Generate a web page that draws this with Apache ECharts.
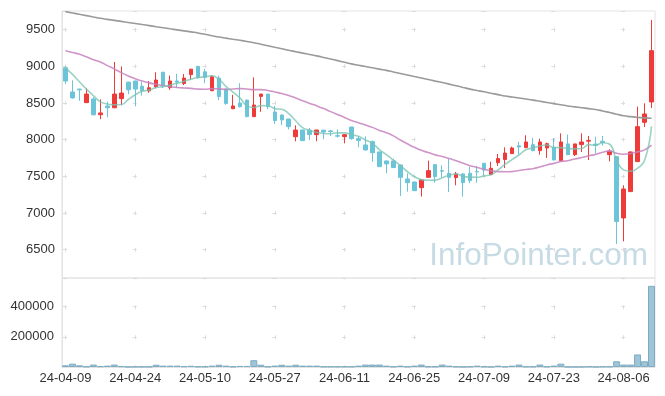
<!DOCTYPE html>
<html>
<head>
<meta charset="utf-8">
<script src="https://cdn.jsdelivr.net/npm/echarts@6/dist/echarts.min.js"></script>
<style>
html,body{margin:0;padding:0;background:#fff;}
#chart{width:665px;height:396px;}
</style>
</head>
<body>
<div id="chart"></div>
<script>
const dates = ['24-04-09','24-04-11','24-04-12','24-04-15','24-04-16','24-04-17','24-04-18','24-04-19','24-04-22','24-04-23',
'24-04-24','24-04-25','24-04-26','24-04-29','24-04-30','24-05-02','24-05-03','24-05-07','24-05-08','24-05-09',
'24-05-10','24-05-13','24-05-14','24-05-16','24-05-17','24-05-20','24-05-21','24-05-22','24-05-23','24-05-24',
'24-05-27','24-05-28','24-05-29','24-05-30','24-05-31','24-06-03','24-06-04','24-06-05','24-06-07','24-06-10',
'24-06-11','24-06-12','24-06-13','24-06-14','24-06-17','24-06-18','24-06-19','24-06-20','24-06-21','24-06-24',
'24-06-25','24-06-26','24-06-27','24-06-28','24-07-01','24-07-02','24-07-03','24-07-04','24-07-05','24-07-08',
'24-07-09','24-07-10','24-07-11','24-07-12','24-07-15','24-07-16','24-07-17','24-07-18','24-07-19','24-07-22',
'24-07-23','24-07-24','24-07-25','24-07-26','24-07-29','24-07-30','24-07-31','24-08-01','24-08-02','24-08-05',
'24-08-06','24-08-07','24-08-08','24-08-09','24-08-12'];

const opens = [8980,8650,8690,8505,8555,8340,8460,8436,8560,8785,
8800,8730,8665,8723,8920,8710,8800,8765,8887,9000,
8925,8668,8840,8690,8423,8500,8540,8314,8590,8622,
8378,8337,8282,8041,8132,8130,8069,8130,8120,8055,
8041,8173,8015,7928,7973,7833,7710,7710,7655,7464,
7423,7346,7487,7660,7578,7542,7483,7533,7542,7568,
7678,7524,7687,7730,7810,7918,7892,7932,7851,7887,
7896,7714,7942,7796,7933,7980,7940,7978,7796,7769,
6933,7292,7701,8237,8514];

const closes = [8800,8570,8680,8622,8340,8365,8435,8622,8636,8680,
8690,8670,8708,8814,8740,8800,8785,8840,8962,8850,
8850,8858,8588,8495,8460,8450,8315,8473,8622,8450,
8260,8270,8178,8132,7987,8070,8132,8105,8112,8048,
8068,8014,7990,7860,7823,7633,7670,7620,7487,7414,
7305,7451,7578,7496,7570,7487,7533,7414,7442,7560,
7587,7610,7742,7818,7887,7900,7969,7851,7969,7946,
7723,7969,7796,7942,7969,7990,7925,7962,7842,6883,
7328,7833,8178,8351,9214];

const lows = [8760,8560,8530,8500,8330,8280,8305,8430,8470,8620,
8455,8600,8640,8700,8705,8680,8710,8745,8820,8830,
8770,8660,8540,8475,8415,8440,8305,8310,8380,8415,
8215,8200,8140,7978,7985,7995,7980,8005,8050,8030,
7950,8000,7895,7855,7700,7630,7542,7615,7233,7292,
7300,7225,7480,7414,7487,7287,7378,7224,7405,7414,
7514,7520,7642,7615,7805,7796,7885,7842,7796,7751,
7720,7710,7790,7778,7832,7723,7814,7920,7705,6578,
6614,7290,7700,8173,8432];

const highs = [9000,8810,8695,8700,8580,8550,8520,9060,9000,8790,
8805,8790,8800,8920,8925,8875,8900,8895,8965,9005,
8965,8880,8875,8695,8612,8770,8545,8850,8625,8625,
8460,8340,8285,8196,8135,8160,8135,8135,8135,8140,
8075,8175,8050,8045,7990,7835,7715,7740,7660,7542,
7430,7455,7715,7665,7650,7740,7560,7545,7632,7642,
7680,7700,7805,7896,7905,7970,8060,8025,8014,7960,
8023,8087,8069,7945,8087,8051,8042,8050,7870,7775,
7378,7840,8451,8496,9632];

const ma5 = [8980,8890,8790,8690,8602,8515,8488,8477,8480,8548,
8613,8660,8677,8712,8724,8746,8769,8796,8825,8847,
8857,8872,8822,8728,8650,8570,8462,8439,8464,8462,
8424,8415,8356,8258,8165,8127,8100,8085,8081,8093,
8093,8069,8046,7996,7951,7864,7795,7721,7647,7565,
7499,7455,7447,7449,7480,7516,7533,7500,7489,7487,
7507,7523,7588,7663,7729,7791,7863,7885,7915,7927,
7892,7892,7881,7875,7880,7933,7924,7958,7938,7720,
7588,7570,7613,7715,8181];

const ma20 = [9214,9190,9165,9130,9091,9060,9010,8965,8915,8870,
8830,8800,8775,8755,8738,8722,8712,8705,8700,8690,
8688,8697,8693,8686,8692,8697,8691,8683,8683,8671,
8650,8630,8603,8569,8531,8495,8462,8425,8383,8343,
8304,8261,8232,8200,8168,8127,8095,8052,7995,7944,
7896,7855,7825,7793,7772,7743,7713,7679,7645,7621,
7597,7577,7564,7562,7565,7579,7594,7605,7629,7656,
7677,7703,7713,7736,7756,7781,7800,7828,7848,7814,
7801,7812,7834,7861,7927];

const maLong = [9746,9728,9710,9692,9673,9655,9641,9627,9613,9599,
9585,9570,9556,9541,9527,9512,9498,9484,9470,9456,
9437,9418,9400,9385,9370,9355,9339,9323,9302,9281,
9260,9240,9219,9200,9181,9162,9143,9122,9100,9078,
9056,9034,9016,8998,8980,8962,8945,8924,8903,8882,
8861,8841,8820,8799,8779,8758,8736,8713,8690,8671,
8653,8634,8615,8596,8582,8568,8554,8540,8524,8508,
8492,8476,8460,8448,8436,8424,8412,8392,8370,8348,
8326,8315,8305,8298,8293];

const volumes = [11000,22000,11000,3000,16000,5000,9000,16000,5000,1000,
2000,2000,2000,15000,9000,9000,9000,5000,8000,3000,
3000,9000,15000,9000,3000,7000,7000,45000,15000,3000,
9000,15000,9000,15000,9000,9000,9000,3000,3000,3000,
3000,3000,9000,16000,16000,16000,9000,3000,9000,3000,
9000,16000,3000,3000,16000,9000,3000,1000,3000,9000,
3000,1000,9000,3000,9000,16000,3000,3000,16000,3000,
9000,22000,1000,1000,1000,3000,1000,3000,3000,38000,
16000,16000,83000,38000,538000];

const watermarkText = 'InfoPointer.com';

const candleData = opens.map((o, i) => [o, closes[i], lows[i], highs[i]]);

const gridColor = '#e3e3e3';
const plusColor = '#dcdcdc';
const labelFont = {color: '#333', fontSize: 13, fontFamily: 'Liberation Sans, Arial, sans-serif'};

const chart = echarts.init(document.getElementById('chart'), null, {renderer: 'canvas'});
chart.setOption({
  animation: false,
  backgroundColor: '#fff',
  grid: [
    {left: 62, top: 11, width: 593, height: 267, show: true, borderColor: gridColor, borderWidth: 1},
    {left: 62, top: 278, width: 593, height: 89, show: true, borderColor: gridColor, borderWidth: 1}
  ],
  xAxis: [
    {type: 'category', gridIndex: 0, data: dates, boundaryGap: true,
     axisLine: {show: false}, axisTick: {show: false}, axisLabel: {show: false},
     splitLine: {show: true, interval: 9, alignWithLabel: true,
       lineStyle: {color: plusColor, width: 1, type: [4, 32.67], dashOffset: 19.97}}},
    {type: 'category', gridIndex: 1, data: dates, boundaryGap: true,
     axisLine: {show: true, lineStyle: {color: gridColor}}, axisTick: {show: false},
     axisLabel: Object.assign({interval: 9, margin: 5}, labelFont),
     splitLine: {show: true, interval: 9, alignWithLabel: true,
       lineStyle: {color: plusColor, width: 1, type: [4, 26], dashOffset: 2.7}}}
  ],
  yAxis: [
    {type: 'value', gridIndex: 0, min: 6114, max: 9755, splitNumber: 7, scale: true,
     axisLine: {show: true, lineStyle: {color: gridColor}}, axisTick: {show: false},
     axisLabel: Object.assign({margin: 7, showMinLabel: false, showMaxLabel: false,
       formatter: v => (v % 500 === 0 ? String(v) : '')}, labelFont),
     splitLine: {show: true, lineStyle: {color: plusColor, width: 1, type: [4, 65.76], dashOffset: 68.76}}},
    {type: 'value', gridIndex: 1, min: 0, max: 590000, interval: 200000,
     axisLine: {show: true, lineStyle: {color: gridColor}}, axisTick: {show: false},
     axisLabel: Object.assign({margin: 8, showMinLabel: false, showMaxLabel: false,
       formatter: v => (v % 200000 === 0 && v > 0 ? String(v) : '')}, labelFont),
     splitLine: {show: true, lineStyle: {color: plusColor, width: 1, type: [4, 65.76], dashOffset: 68.76}}}
  ],
  graphic: [{
    type: 'text', right: 17, top: 240, z: 0, silent: true,
    style: {text: watermarkText, fill: '#c7dbe5', font: '31.5px "Liberation Sans", Arial, sans-serif'}
  }],
  series: [
    {type: 'candlestick', xAxisIndex: 0, yAxisIndex: 0, data: candleData, barWidth: 4,
     itemStyle: {color: '#ef3a3a', color0: '#6cc4d9', borderColor: '#ef3a3a', borderColor0: '#6cc4d9', borderWidth: 1}},
    {type: 'line', xAxisIndex: 0, yAxisIndex: 0, data: maLong, showSymbol: false, smooth: true,
     lineStyle: {color: '#9a9a9a', width: 1.6}, z: 3},
    {type: 'line', xAxisIndex: 0, yAxisIndex: 0, data: ma20, showSymbol: false, smooth: true,
     lineStyle: {color: 'rgba(200,130,190,0.85)', width: 1.6}, z: 3},
    {type: 'line', xAxisIndex: 0, yAxisIndex: 0, data: ma5, showSymbol: false, smooth: true,
     lineStyle: {color: 'rgba(120,195,178,0.75)', width: 1.6}, z: 3},
    {type: 'bar', xAxisIndex: 1, yAxisIndex: 1, data: volumes, barCategoryGap: '0%',
     itemStyle: {color: '#9ec5d7', borderColor: '#7eabc1', borderWidth: 1}}
  ]
});
</script>
</body>
</html>
